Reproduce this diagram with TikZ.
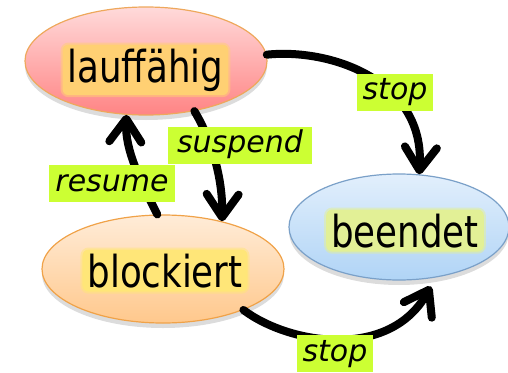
\documentclass[tikz,border=0pt]{standalone}
\usepackage{fontspec}
\setmainfont{DejaVu Sans}
\newfontfamily\statefont[FakeStretch=0.81]{DejaVu Sans}
\usetikzlibrary{shapes.geometric,arrows.meta,shadows}

\definecolor{runTop}{RGB}{255,218,218}
\definecolor{runBot}{RGB}{255,132,132}
\definecolor{runLine}{RGB}{238,168,92}
\definecolor{runGlow}{RGB}{255,208,115}
\definecolor{blkTop}{RGB}{255,236,216}
\definecolor{blkBot}{RGB}{255,200,140}
\definecolor{blkLine}{RGB}{240,162,72}
\definecolor{blkGlow}{RGB}{255,230,120}
\definecolor{endTop}{RGB}{226,239,252}
\definecolor{endBot}{RGB}{176,212,246}
\definecolor{endLine}{RGB}{122,160,200}
\definecolor{endGlow}{RGB}{226,240,150}
\definecolor{labelgreen}{RGB}{204,255,51}

\begin{document}
\begin{tikzpicture}[x=1pt,y=-1pt,
  state/.style={ellipse, draw, line width=1.2pt, inner sep=0pt,
    minimum width=242pt, minimum height=108pt,
    drop shadow={opacity=0.28, shadow xshift=0pt, shadow yshift=-5pt}},
  statetext/.style={font=\statefont\fontsize{44}{50}\selectfont,
    rounded corners=6pt, inner xsep=5pt, inner ysep=4pt, anchor=base,
    fill=#1, draw=#1, draw opacity=0.5, line width=4pt},
  edgelabel/.style={fill=labelgreen, font=\itshape\fontsize{30}{36}\selectfont,
    inner xsep=6pt, inner ysep=4pt, text height=22pt, text depth=7pt},
  flow/.style={line width=8pt, line cap=round,
    -{Straight Barb[length=23pt,width=32pt,line cap=round,line join=round]}}]

  \useasboundingbox (0,0) rectangle (508,372);

  % the three process states
  \node[state, top color=runTop, bottom color=runBot, draw=runLine] (lauf) at (146,61) {};
  \node[state, top color=blkTop, bottom color=blkBot, draw=blkLine] (block) at (163,269) {};
  \node[state, minimum width=220pt, minimum height=106pt,
        top color=endTop, bottom color=endBot, draw=endLine] (been) at (399,227) {};

  \node[statetext=runGlow] (laufT) at (145.5,82) {lauffähig};
  \node[statetext=blkGlow] (blockT) at (165,287) {blockiert};
  \node[statetext=endGlow] (beenT) at (405,247) {beendet};

  % transitions
  \draw[flow] (lauf.3) .. controls (330,48) and (425,80) .. (been.69);
  \draw[flow] (lauf.-46) .. controls (212,140) and (223,180) .. (block.39);
  \draw[flow] (block.96) .. controls (140,180) and (125,150) .. (lauf.-110);
  \draw[flow, shorten >=10pt] (block.-27) .. controls (290,345) and (390,360) .. (been.-54);

  % transition labels
  \node[edgelabel] (stopA) at (395,92) {stop};
  \node[edgelabel, inner xsep=9pt] (susp) at (240,145) {suspend};
  \node[edgelabel] (resm) at (112,183.5) {resume};
  \node[edgelabel] (stopB) at (335,353.5) {stop};
\end{tikzpicture}
\end{document}
